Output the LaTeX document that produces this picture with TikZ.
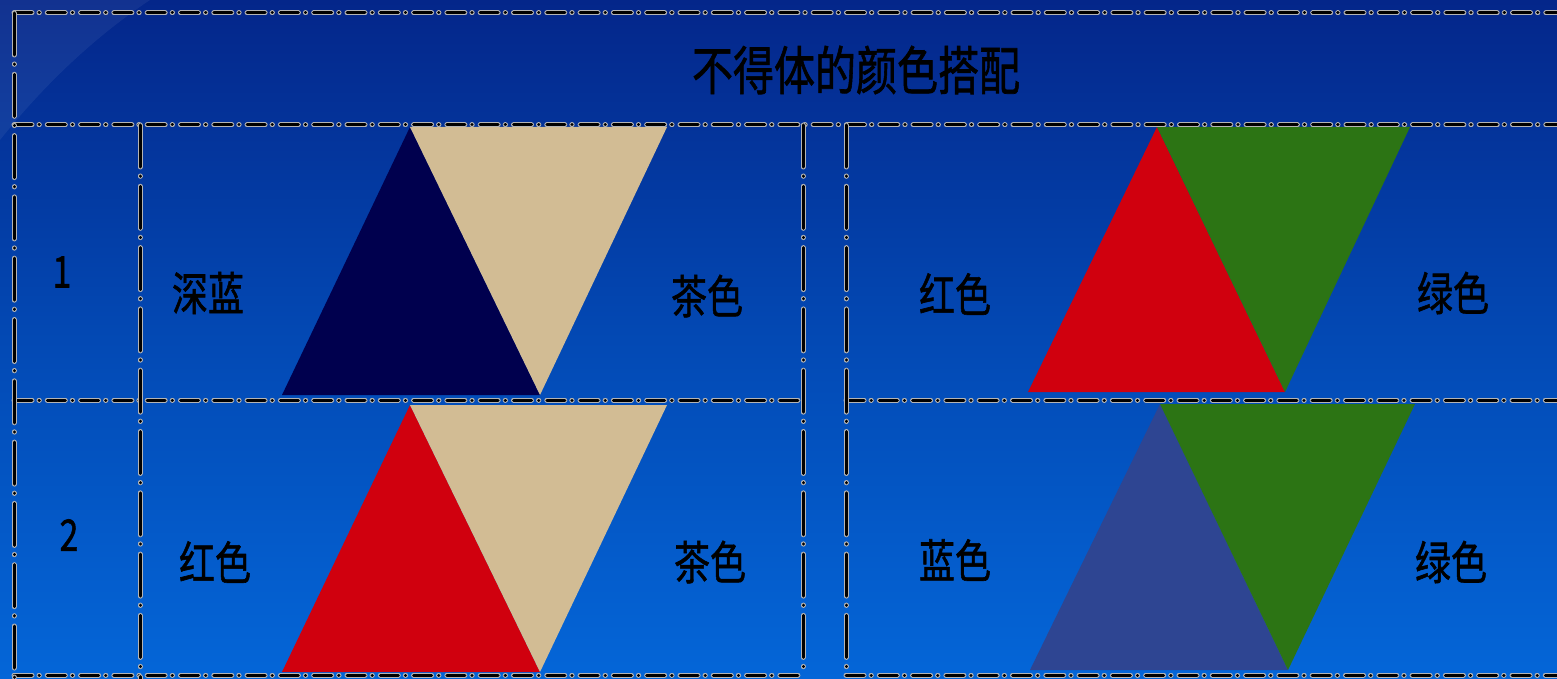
\documentclass[tikz,border=0pt]{standalone}
\usepackage{fontspec}
\setmainfont{Noto Sans CJK SC}
\newfontfamily\cjkm[FakeBold=1.3]{Noto Sans CJK SC}
\definecolor{bgtop}{HTML}{04268A}
\definecolor{bgmid}{HTML}{0349B4}
\definecolor{bgbot}{HTML}{0466D8}
\definecolor{navy}{HTML}{00004E}
\definecolor{tan}{HTML}{D2BC94}
\definecolor{tred}{HTML}{D0000E}
\definecolor{tgreen}{HTML}{2C7414}
\definecolor{tbluegray}{HTML}{2E4592}
\definecolor{outl}{HTML}{B4B4B4}
\tikzset{
  hline/.style={draw=black, line width=3pt, line cap=round,
    dash pattern=on 18pt off 7pt on 0.3pt off 8pt,
    preaction={draw=outl, line width=5pt, line cap=round,
    dash pattern=on 18pt off 7pt on 0.3pt off 8pt}},
  vline/.style={draw=black, line width=3pt, line cap=round,
    dash pattern=on 42pt off 9pt on 0.3pt off 10pt,
    preaction={draw=outl, line width=5pt, line cap=round,
    dash pattern=on 42pt off 9pt on 0.3pt off 10pt}},
  lbl/.style={inner sep=0pt, text=black, font=\cjkm\fontsize{36}{40}\selectfont},
  ttl/.style={inner sep=0pt, text=black, font=\cjkm\fontsize{41}{46}\selectfont},
  num/.style={inner sep=0pt, text=black, font=\cjkm\fontsize{34}{40}\selectfont},
}
\newcommand{\tallt}[1]{\scalebox{1}[1.28]{#1}}
\begin{document}
\begin{tikzpicture}[x=1pt,y=-1pt]
\useasboundingbox (0,0) rectangle (1557,679);
% background
\shade[top color=bgtop, bottom color=bgbot, middle color=bgmid] (0,0) rectangle (1557,679);
\fill[white, opacity=0.06] (0,0) -- (150,0) .. controls (90,40) and (40,90) .. (0,140) -- cycle;
% triangles row 1
\fill[navy] (410,127) -- (540,395) -- (282,395) -- cycle;
\fill[tan] (410,127) -- (667,127) -- (540,395) -- cycle;
\fill[tred] (1157,127) -- (1285,392) -- (1028,392) -- cycle;
\fill[tgreen] (1157,127) -- (1410,127) -- (1285,392) -- cycle;
% triangles row 2
\fill[tred] (410,405) -- (540,672) -- (282,672) -- cycle;
\fill[tan] (410,405) -- (667,405) -- (540,672) -- cycle;
\fill[tbluegray] (1160,404) -- (1288,670) -- (1030,670) -- cycle;
\fill[tgreen] (1160,404) -- (1415,404) -- (1288,670) -- cycle;
% frame lines
\coordinate (tl) at (14,13);
\coordinate (tr) at (1570,13);
\coordinate (ml) at (14,125);
\coordinate (mr) at (1570,125);
\coordinate (cl) at (14,400);
\coordinate (cA) at (803,400);
\coordinate (cB) at (846,400);
\coordinate (cr) at (1570,400);
\coordinate (bl) at (14,675);
\coordinate (bA) at (803,675);
\coordinate (bB) at (846,675);
\coordinate (br) at (1570,675);
\coordinate (bot) at (14,690);
\coordinate (v1t) at (140,125);
\coordinate (v1b) at (140,690);
\coordinate (v2t) at (803,125);
\coordinate (v3t) at (846,125);
\draw[hline] (tl) -- (tr);
\draw[hline] (ml) -- (mr);
\draw[hline] (cl) -- (cA);
\draw[hline] (cB) -- (cr);
\draw[hline] (bl) -- (bA);
\draw[hline] (bB) -- (br);
\draw[vline] (tl) -- (bot);
\draw[vline] (v1t) -- (v1b);
\draw[vline] (v2t) -- (bA);
\draw[vline] (v3t) -- (bB);
% texts
\node[ttl] (title) at (856,70) {\tallt{不得体的颜色搭配}};
\node[num] (n1) at (62,272) {\tallt{1}};
\node[num] (n2) at (69,535) {\tallt{2}};
\node[lbl] (a1) at (208,293) {\tallt{深蓝}};
\node[lbl] (b1) at (707,296) {\tallt{茶色}};
\node[lbl] (c1) at (955,294) {\tallt{红色}};
\node[lbl] (d1) at (1453,293) {\tallt{绿色}};
\node[lbl] (a2) at (215,562) {\tallt{红色}};
\node[lbl] (b2) at (710,562) {\tallt{茶色}};
\node[lbl] (c2) at (955,560) {\tallt{蓝色}};
\node[lbl] (d2) at (1451,562) {\tallt{绿色}};
\end{tikzpicture}
\end{document}
